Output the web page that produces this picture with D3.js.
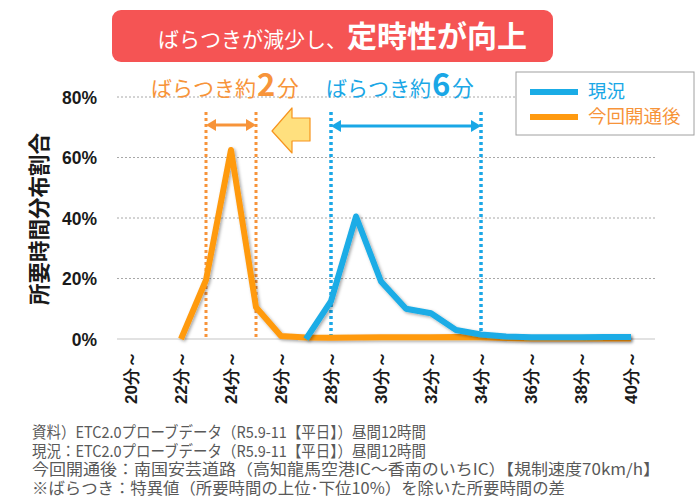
<!DOCTYPE html>
<html><head><meta charset="utf-8">
<script src="https://cdn.jsdelivr.net/npm/d3@7"></script>
<style>
body{margin:0;background:#fff;}
svg{display:block;font-family:"Noto Sans CJK JP","Noto Sans",sans-serif;}
</style></head>
<body><svg id="c" width="698" height="497"></svg>
<script>
const categories = d3.range(20, 41).map(m => m + "分～");
const tickLabels = ["20分～","22分～","24分～","26分～","28分～","30分～","32分～","34分～","36分～","38分～","40分～"];
const yTicks = [0, 0.2, 0.4, 0.6, 0.8];
// 現況 (current) – values per category, null where no data
const currentValues = [null,null,null,null,null,null,null,0,0.125,0.405,0.19,0.10,0.085,0.03,0.015,0.008,0.006,0.006,0.006,0.007,0.007];
// 今回開通後 (after opening)
const afterValues = [null,null,0,0.195,0.625,0.105,0.01,0.005,0.004,0.005,0.006,0.006,0.006,0.007,0.006,0.003,0.002,0.002,0.002,0.002,0.002];
const seriesNames = ["現況","今回開通後"];
const colors = {"現況":"#1AACE6","今回開通後":"#FF9A10"};
const rangeAfter = ["23分～","25分～"];
const rangeCurrent = ["28分～","34分～"];
const footnotes = [
 "資料）ETC2.0プローブデータ（R5.9-11【平日】）昼間12時間",
 "現況：ETC2.0プローブデータ（R5.9-11【平日】）昼間12時間",
 "今回開通後：南国安芸道路（高知龍馬空港IC～香南のいちIC）【規制速度70km/h】",
 "※ばらつき：特異値（所要時間の上位･下位10%）を除いた所要時間の差"
];

const svg = d3.select("#c");
const x = d3.scalePoint().domain(categories).range([131, 631]);
const y = d3.scaleLinear().domain([0, 0.8]).range([339, 97]);
const plotL = 117, plotR = 655;

const defs = svg.append("defs");
const f = defs.append("filter").attr("id","sh").attr("x","-10%").attr("y","-10%").attr("width","130%").attr("height","130%");
f.append("feDropShadow").attr("dx",1.5).attr("dy",1.5).attr("stdDeviation",1.5).attr("flood-color","#000").attr("flood-opacity",0.35);

// Title box
svg.append("rect").attr("x",112).attr("y",10).attr("width",441).attr("height",52).attr("rx",9).attr("fill","#F55454");
const tt = svg.append("text").attr("x",158).attr("y",47).attr("fill","#fff");
tt.append("tspan").attr("font-size",21).text("ばらつきが減少し、");
tt.append("tspan").attr("font-size",30).attr("font-weight",700).text("定時性が向上");

// Gridlines
svg.append("g").selectAll("line").data(yTicks.filter(d=>d>0)).join("line")
 .attr("x1",plotL).attr("x2",plotR).attr("y1",d=>y(d)).attr("y2",d=>y(d))
 .attr("stroke","#A8A8A8").attr("stroke-width",1).attr("stroke-dasharray","2,2");
svg.append("line").attr("x1",plotL).attr("x2",plotR).attr("y1",y(0)).attr("y2",y(0)).attr("stroke","#D9D9D9").attr("stroke-width",1.5);

// Y axis labels
const yAxis = d3.axisLeft(y).tickValues(yTicks).tickFormat(d3.format(".0%")).tickSize(0).tickPadding(0);
const ya = svg.append("g").attr("transform","translate(97,0)").call(yAxis);
ya.select(".domain").remove();
ya.selectAll("text").attr("font-size",17.5).attr("font-weight",700).attr("fill","#1a1a1a")
 .attr("font-family","'Liberation Sans','Noto Sans',sans-serif").attr("dy","0.35em");

// Y title
svg.append("text").attr("transform","translate(47,219) rotate(-90)").attr("text-anchor","middle")
 .attr("font-size",21.5).attr("font-weight",700).attr("fill","#1a1a1a").text("所要時間分布割合");

// X axis labels
const xAxis = d3.axisBottom(x).tickValues(tickLabels).tickSize(0).tickPadding(0);
const xa = svg.append("g").attr("transform","translate(0,351)").call(xAxis);
xa.select(".domain").remove();
xa.selectAll("text").attr("transform","rotate(-90)").attr("text-anchor","end")
 .attr("x",0).attr("y",0).attr("dy","0.35em").attr("dx",0)
 .attr("font-size",17).attr("font-weight",700).attr("fill","#1a1a1a");

// Range dotted lines
function vdots(cat, color, w){
 svg.append("line").attr("x1",x(cat)).attr("x2",x(cat)).attr("y1",112).attr("y2",339)
  .attr("stroke",color).attr("stroke-width",w).attr("stroke-dasharray","3,3");
}
const orangeA = "#F7943A", blueA = "#1AA7E6";
rangeAfter.forEach(c=>vdots(c, orangeA, 3));
rangeCurrent.forEach(c=>vdots(c, blueA, 3.5));

// Double arrows
function darrow(c1,c2,yy,color){
 const a = x(c1), b = x(c2), h = 10, hw = 6;
 svg.append("line").attr("x1",a+h-1).attr("x2",b-h+1).attr("y1",yy).attr("y2",yy).attr("stroke",color).attr("stroke-width",3);
 svg.append("path").attr("d",`M${a},${yy}L${a+h},${yy-hw}L${a+h},${yy+hw}Z`).attr("fill",color);
 svg.append("path").attr("d",`M${b},${yy}L${b-h},${yy-hw}L${b-h},${yy+hw}Z`).attr("fill",color);
}
darrow(rangeAfter[0],rangeAfter[1],125,orangeA);
darrow(rangeCurrent[0],rangeCurrent[1],126,blueA);

// Yellow block arrow
svg.append("path").attr("d","M272,131L292,108L292,118L310,118L310,141L292,141L292,153Z")
 .attr("fill","#FFE07E").attr("stroke","#F7941D").attr("stroke-width",1.2).attr("stroke-linejoin","round");

// Annotations
function annot(xx, num, color){
 const t = svg.append("text").attr("x",xx).attr("y",96).attr("fill",color);
 t.append("tspan").attr("font-size",21).text("ばらつき約");
 t.append("tspan").attr("font-size",31).attr("font-weight",700).attr("dx",1).text(num);
 t.append("tspan").attr("font-size",21.5).attr("dx",2).text("分");
}
annot(151, "2", orangeA);
annot(326, "6", blueA);

// Lines
const line = d3.line().defined(d=>d.v!=null).x(d=>x(d.c)).y(d=>y(d.v));
const seriesData = {
 "今回開通後": categories.map((c,i)=>({c, v: afterValues[i]})),
 "現況": categories.map((c,i)=>({c, v: currentValues[i]}))
};
["今回開通後","現況"].forEach(n=>{
 svg.append("path").datum(seriesData[n]).attr("d",line).attr("fill","none")
  .attr("stroke",colors[n]).attr("stroke-width",6).attr("stroke-linejoin","round").attr("stroke-linecap","butt")
  .attr("filter","url(#sh)");
});

// Legend
svg.append("rect").attr("x",516).attr("y",72).attr("width",178).attr("height",63).attr("fill","#fff").attr("stroke","#A0A0A0").attr("stroke-width",1);
seriesNames.forEach((n,i)=>{
 const yy = 92 + i*25;
 svg.append("line").attr("x1",530).attr("x2",578).attr("y1",yy).attr("y2",yy).attr("stroke",colors[n]).attr("stroke-width",6);
 svg.append("text").attr("x",588).attr("y",yy).attr("dy","0.35em").attr("font-size",18.5)
  .attr("fill", i===0 ? blueA : orangeA).text(n);
});

// Footnotes
const fnWidths = [394, 394, 628, 533];
svg.append("g").selectAll("text").data(footnotes).join("text")
 .attr("x",32).attr("y",(d,i)=>433+i*18.5).attr("dy","0.35em")
 .attr("font-size",15.5).attr("fill","#595959")
 .attr("textLength",(d,i)=>fnWidths[i]).attr("lengthAdjust","spacingAndGlyphs").text(d=>d);
</script></body></html>
